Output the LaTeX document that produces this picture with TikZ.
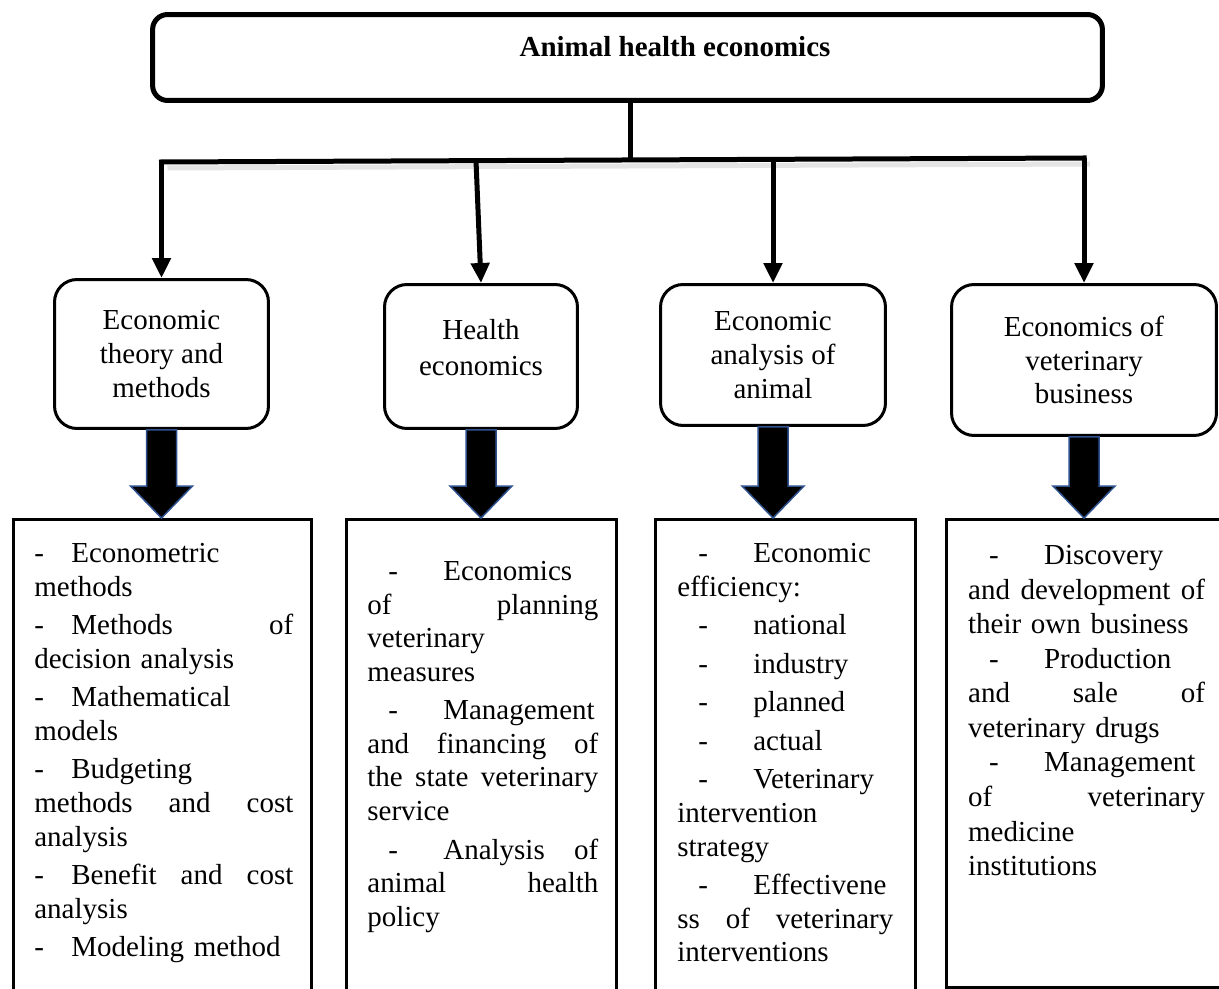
\documentclass[tikz,border=0pt]{standalone}
\usepackage{fontspec}
\setmainfont{Liberation Serif}
\usetikzlibrary{positioning,arrows.meta,calc}
\definecolor{rimblue}{RGB}{47,82,143}
\setlength{\parindent}{0pt}
\hyphenpenalty=10000
\exhyphenpenalty=10000
\newcommand{\dsh}{\makebox[0.74cm][l]{-}}
\newcommand{\idsh}{\hspace*{0.42cm}\makebox[1.1cm][l]{-}}
\newcommand{\gap}{\\[0.1cm]}
\tikzset{%
  txt/.style={font=\fontsize{16.5}{19.1}\selectfont},
  headbox/.style={draw,line width=0.1cm,rounded corners=0.3cm,minimum width=19cm,minimum height=1.72cm},
  topic/.style={txt,draw,line width=0.06cm,rounded corners=0.45cm,align=center},
  listbox/.style={draw,line width=0.06cm,anchor=north,minimum height=9.7cm},
  items/.style={txt,text width=#1,align=left,inner sep=0pt},
  link/.style={line width=0.1cm,-{Triangle[length=0.4cm,width=0.36cm]}},
  fat/.style={fill=black,draw=rimblue,line width=0.03cm}
}

\begin{document}
\begin{tikzpicture}[x=0.02cm,y=-0.02cm]
  \useasboundingbox (0,0) rectangle (1219,989);
  \clip (0,0) rectangle (1219,989);

  \node[headbox] (head) at (627.5,57.5) {};
  \node[font=\fontsize{16.5}{19.1}\selectfont\bfseries] (title) at (675,47) {Animal health economics};

  \node[topic,minimum width=4.28cm,minimum height=2.98cm] (b1) at (161.5,354) {Economic\\theory and\\methods};
  \node[topic,minimum width=3.86cm,minimum height=2.88cm,text depth=0.38cm] (b2) at (481,356.5) {Health\\[0.05cm]economics};
  \node[topic,minimum width=4.5cm,minimum height=2.82cm] (b3) at (773,355) {Economic\\analysis of\\animal};
  \node[topic,minimum width=5.3cm,minimum height=3.02cm] (b4) at (1084,360) {Economics of\\veterinary\\business};

  \node[listbox,minimum width=5.96cm] (l1) at (162.5,518) {};
  \node[listbox,minimum width=5.4cm] (l2) at (481.5,518) {};
  \node[listbox,minimum width=5.2cm] (l3) at (785.5,518) {};
  \node[listbox,minimum width=5.67cm,minimum height=9.36cm] (l4) at (1088,518) {};

  \coordinate (j) at (630,160);
  \coordinate (c1) at (161.5,162);
  \coordinate (c2) at (476,160.6);
  \coordinate (c3) at (773,159.4);
  \coordinate (c4) at (1084,158);

  \draw[line width=0.1cm,black!10] ($(c1)+(6,6)$) -- ($(c4)+(6,6)$);
  \draw[line width=0.1cm] (head.south -| j) -- (j);
  \draw[line width=0.1cm,line cap=rect] (c1) -- (c4);
  \foreach \c/\b in {c1/b1,c2/b2,c3/b3,c4/b4}
    \draw[link] (\c) -- (\b.north);

  \foreach \b/\l in {b1/l1,b2/l2,b3/l3,b4/l4}{
    \coordinate (s) at (\b.south);
    \coordinate (e) at (\b.south |- \l.north);
    \draw[fat] ($(s)+(-15,0)$) -- ($(s)+(15,0)$) -- ($(e)+(15,-32)$) -- ($(e)+(31,-32)$)
      -- (e) -- ($(e)+(-31,-32)$) -- ($(e)+(-15,-32)$) -- cycle;
  }

  \node[items=5.18cm,below right=0.5cm and 0.44cm of l1.north west] (t1) {%
    \dsh Econometric\\
    methods\gap
    \dsh Methods \hfill of\\
    decision analysis\gap
    \dsh Mathematical\\
    models\gap
    \dsh Budgeting\\
    methods \hfill and \hfill cost\\
    analysis\gap
    \dsh Benefit \hfill and \hfill cost\\
    analysis\gap
    \dsh Modeling method};

  \node[items=4.62cm,below right=0.86cm and 0.44cm of l2.north west] (t2) {%
    \idsh Economics\\
    of \hfill planning\\
    veterinary\\
    measures\gap
    \idsh Management\\
    and \hfill financing \hfill of\\
    the \hfill state \hfill veterinary\\
    service\gap
    \idsh Analysis \hfill of\\
    animal \hfill health\\
    policy};

  \node[items=4.32cm,below right=0.5cm and 0.46cm of l3.north west] (t3) {%
    \idsh Economic\\
    efficiency:\gap
    \idsh national\gap
    \idsh industry\gap
    \idsh planned\gap
    \idsh actual\gap
    \idsh Veterinary\\
    intervention\\
    strategy\gap
    \idsh Effectivene\\
    ss \hfill of \hfill veterinary\\
    interventions};

  \node[items=4.74cm,below right=0.54cm and 0.46cm of l4.north west] (t4) {%
    \idsh Discovery\\[0.02cm]
    and\hfill development\hfill of\\[0.02cm]
    their own business\\[0.02cm]
    \idsh Production\\[0.02cm]
    and \hfill sale \hfill of\\[0.02cm]
    veterinary drugs\\[0.02cm]
    \idsh Management\\[0.02cm]
    of \hfill veterinary\\[0.02cm]
    medicine\\[0.02cm]
    institutions};
\end{tikzpicture}
\end{document}
